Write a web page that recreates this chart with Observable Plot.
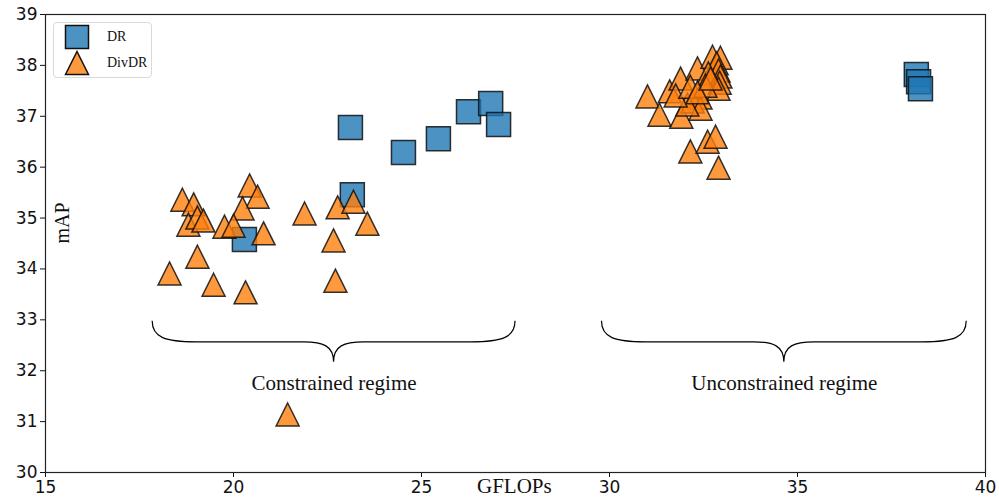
<!DOCTYPE html>
<html>
<head>
<meta charset="utf-8">
<script src="https://cdn.jsdelivr.net/npm/d3@7"></script>
<script src="https://cdn.jsdelivr.net/npm/@observablehq/plot@0.6"></script>
<style>
  body { margin: 0; background: #fff; }
  #chart { position: relative; width: 999px; height: 504px; }
  .legend {
    position: absolute; left: 53px; top: 22px; width: 99px; height: 56px;
    border: 1px solid #d9d9d9; border-radius: 4px; background: rgba(255,255,255,0.85);
    box-sizing: border-box; font-family: "Liberation Serif", serif; font-size: 14px; color: #111;
  }
  .legend .item { position: absolute; left: 10px; display: flex; align-items: center; }
  .legend .item svg { display: block; }
  .legend .item span { margin-left: 17px; }
</style>
</head>
<body>
<div id="chart"></div>
<script>
// DR models: GFLOPs vs mAP
const drX = [20.29, 23.11, 23.16, 24.52, 25.45, 26.25, 26.84, 27.05, 38.16, 38.22, 38.27];
const drY = [34.58, 36.78, 35.46, 36.29, 36.56, 37.09, 37.25, 36.84, 37.82, 37.68, 37.54];

// DivDR models: GFLOPs vs mAP
const divX = [
  18.64, 18.94, 18.80, 19.04, 19.20, 20.43, 20.64, 20.24, 19.76, 20.00, 20.80,
  19.04, 18.30, 19.47, 20.32, 21.89, 22.77, 23.19, 23.56, 22.66, 22.71, 21.44,
  31.01, 31.33, 31.91, 31.60, 31.89, 32.34, 32.74, 32.95, 32.85, 32.90, 32.63,
  32.95, 32.93, 32.90, 32.42, 32.21, 32.42, 32.07, 31.76, 32.15, 32.55, 32.34,
  32.69, 32.15, 32.61, 32.82, 32.90
];
const divY = [
  35.36, 35.27, 34.87, 35.01, 34.95, 35.64, 35.42, 35.19, 34.83, 34.85, 34.70,
  34.24, 33.91, 33.69, 33.54, 35.09, 35.21, 35.32, 34.89, 34.56, 33.77, 31.14,
  37.39, 37.03, 36.99, 37.49, 37.74, 37.94, 38.17, 38.15, 38.04, 37.90, 37.84,
  37.78, 37.66, 37.54, 37.37, 37.29, 37.15, 37.23, 37.41, 37.58, 37.60, 37.47,
  37.74, 36.31, 36.50, 36.60, 35.99
];

// Axis ticks
const xTicks = [15, 20, 25, 30, 35, 40];
const yTicks = [30, 31, 32, 33, 34, 35, 36, 37, 38, 39];

// Regime annotations: brace extents (GFLOPs), brace top (mAP), label text
const regimeNames = ["Constrained regime", "Unconstrained regime"];
const braceStart = [17.85, 29.8];
const braceEnd = [27.5, 39.5];
const braceTop = 32.97;
const regimeLabelY = 31.75;

const drRows = drX.map((x, i) => ({x, y: drY[i]}));
const divRows = divX.map((x, i) => ({x, y: divY[i]}));
const regimeRows = regimeNames.map((name, i) => ({name, x0: braceStart[i], x1: braceEnd[i], xm: (braceStart[i] + braceEnd[i]) / 2}));

// Marker shapes: a square and a wide upward triangle, both with half-size r
const squareSym = {draw(ctx, size) { const h = Math.sqrt(size / Math.PI); ctx.rect(-h, -h, 2 * h, 2 * h); }};
const triSym = {draw(ctx, size) {
  const h = Math.sqrt(size / Math.PI);
  ctx.moveTo(0, -h); ctx.lineTo(h, h); ctx.lineTo(-h, h); ctx.closePath();
}};

const blue = "#1f77b4", orange = "#ff7f0e", edge = "#111";

// Curly braces drawn in screen space from the scales
function braces(index, scales) {
  const g = d3.create("svg:g").attr("fill", "none").attr("stroke", "#000").attr("stroke-width", 1.2);
  for (const r of regimeRows) {
    const x0 = scales.x(r.x0), x1 = scales.x(r.x1), xm = scales.x(r.xm), y0 = scales.y(braceTop);
    const d = 21, tip = 41, endW = 44, midW = 30;
    const p = d3.path();
    p.moveTo(x0, y0);
    p.bezierCurveTo(x0, y0 + d * 0.8, x0 + endW * 0.3, y0 + d, x0 + endW, y0 + d);
    p.lineTo(xm - midW, y0 + d);
    p.bezierCurveTo(xm - midW * 0.35, y0 + d, xm, y0 + d + 4, xm, y0 + tip);
    p.bezierCurveTo(xm, y0 + d + 4, xm + midW * 0.35, y0 + d, xm + midW, y0 + d);
    p.lineTo(x1 - endW, y0 + d);
    p.bezierCurveTo(x1 - endW * 0.3, y0 + d, x1, y0 + d * 0.8, x1, y0);
    g.append("path").attr("d", p.toString());
  }
  return g.node();
}

const chart = Plot.plot({
  width: 999,
  height: 504,
  marginLeft: 45,
  marginRight: 14,
  marginTop: 14,
  marginBottom: 32,
  style: {fontFamily: "DejaVu Sans", fontSize: "17px", color: "#111", background: "#fff"},
  x: {domain: [15, 40], ticks: xTicks, tickSize: 5, tickPadding: 3, label: null},
  y: {domain: [30, 39], ticks: yTicks, tickSize: 5, tickPadding: 3, label: null},
  marks: [
    Plot.dot(drRows, {x: "x", y: "y", symbol: squareSym, r: 12, fill: blue, fillOpacity: 0.8, stroke: edge, strokeOpacity: 0.85, strokeWidth: 1.5}),
    Plot.dot(divRows, {x: "x", y: "y", symbol: triSym, r: 11.5, fill: orange, fillOpacity: 0.8, stroke: edge, strokeOpacity: 0.85, strokeWidth: 1.5}),
    braces,
    Plot.text(regimeRows, {x: "xm", y: () => regimeLabelY, text: "name", fontFamily: "Liberation Serif", fontSize: 21, fill: "#111"}),
    Plot.text(["mAP"], {frameAnchor: "left", dx: 17, rotate: -90, fontFamily: "Liberation Serif", fontSize: 20, fill: "#111"}),
    Plot.text(["GFLOPs"], {x: () => 27.47, frameAnchor: "bottom", dy: 20, fontFamily: "Liberation Serif", fontSize: 21, fill: "#111"}),
    Plot.frame({stroke: "#222", strokeWidth: 1.2})
  ]
});

const host = document.getElementById("chart");
host.appendChild(chart);

// Legend box inside the plot area
const legend = document.createElement("div");
legend.className = "legend";
const sw = (shape, color) =>
  `<svg width="26" height="26" viewBox="-13 -13 26 26">${
    shape === "square"
      ? `<rect x="-11.5" y="-11.5" width="23" height="23" fill="${color}" fill-opacity="0.8" stroke="${edge}" stroke-width="1.5"/>`
      : `<path d="M0,-11.5L11.5,11.5L-11.5,11.5Z" fill="${color}" fill-opacity="0.8" stroke="${edge}" stroke-width="1.5"/>`
  }</svg>`;
legend.innerHTML =
  `<div class="item" style="top:1px">${sw("square", blue)}<span>DR</span></div>` +
  `<div class="item" style="top:27px">${sw("triangle", orange)}<span>DivDR</span></div>`;
host.appendChild(legend);
</script>
</body>
</html>
